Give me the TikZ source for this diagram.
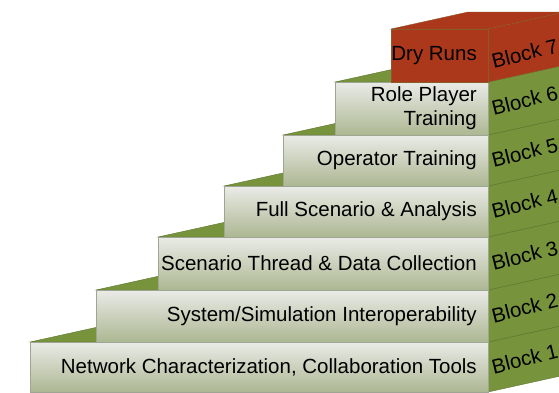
\documentclass[tikz,border=0pt]{standalone}
\usepackage{fontspec}
\setmainfont{Liberation Sans}
\begin{document}
\begin{tikzpicture}[x=1pt,y=-1pt]
\definecolor{stepgreen}{HTML}{77933C}
\definecolor{stepgreenedge}{HTML}{5E7530}
\definecolor{stepred}{HTML}{AB381B}
\definecolor{steprededge}{HTML}{8A5A2A}
\definecolor{frontTop}{HTML}{EAEBE7}
\definecolor{frontMid}{HTML}{D8DCCF}
\definecolor{frontBot}{HTML}{ACB792}
\definecolor{frontEdge}{HTML}{9FA593}
\tikzset{
  face/.style={line width=0.4pt, line join=miter},
  frontface/.style={face, top color=frontTop, middle color=frontMid, bottom color=frontBot, draw=frontEdge},
  fronttext/.style={anchor=east, align=right, inner sep=0pt, text=black,
    font=\fontsize{20.5}{24}\selectfont},
  blocklabel/.style={anchor=west, rotate=14, inner sep=0pt, text=black,
    font=\fontsize{20.5}{24}\selectfont},
}
\useasboundingbox (0,0) rectangle (559,392);
\clip (0,0) rectangle (559,392);
% depth offset of the boxes: dx = 77, dy = -17 ; common front right edge at x = 488
\foreach \n/\L/\t/\b/\txt/\fc/\ec/\lo in {
  1/30/342/392/{Network Characterization, Collaboration Tools}/stepgreen/stepgreenedge/0,
  2/96/290/342/{System/Simulation Interoperability}/stepgreen/stepgreenedge/0,
  3/158/237/290/{Scenario Thread \& Data Collection}/stepgreen/stepgreenedge/0,
  4/224/186/237/{Full Scenario \& Analysis}/stepgreen/stepgreenedge/0,
  5/283/135/186/{Operator Training}/stepgreen/stepgreenedge/0,
  6/335/82/135/{Role Player\\Training}/stepgreen/stepgreenedge/0,
  7/391/29/82/{Dry Runs}/stepred/steprededge/6}{
  % top face
  \filldraw[face, fill=\fc, draw=\ec]
    (\L,\t) -- ++(77,-17) -- (565,\t-17) -- (488,\t) -- cycle;
  % side face
  \filldraw[face, fill=\fc, draw=\ec]
    (488,\t) -- (565,\t-17) -- (565,\b-17) -- (488,\b) -- cycle;
  % front face
  \ifnum\n=7
    \filldraw[face, fill=stepred, draw=steprededge] (\L,\t) rectangle (488,\b);
  \else
    \shade[frontface] (\L,\t) rectangle (488,\b);
  \fi
  \node[fronttext] (front\n) at (477,{(\t+\b)/2}) {\txt};
  \node[blocklabel] (block\n) at (492,{(\t+\b)/2+\lo}) {Block \n};
}
\end{tikzpicture}
\end{document}
